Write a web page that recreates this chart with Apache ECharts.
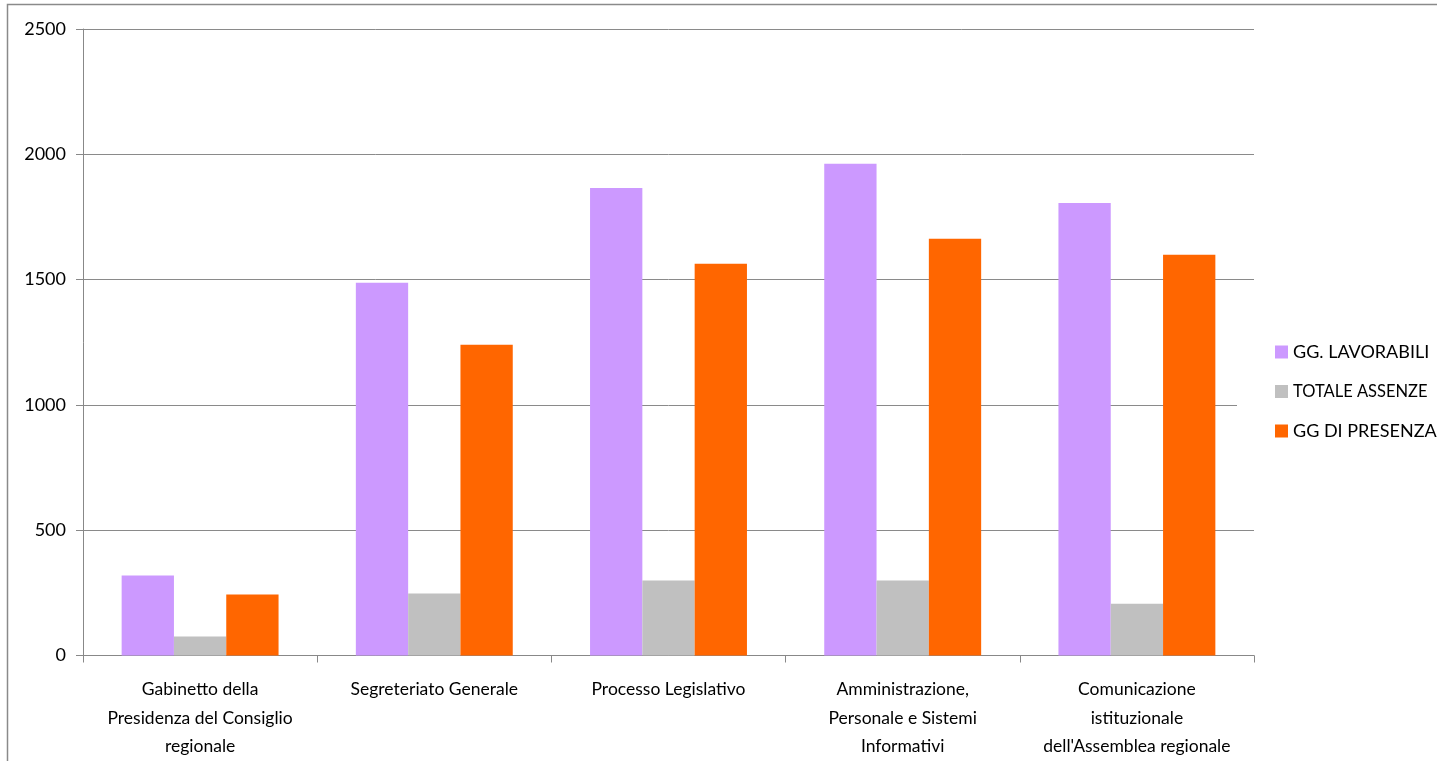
<!DOCTYPE html>
<html><head><meta charset="utf-8">
<script src="https://cdn.jsdelivr.net/npm/echarts@6/dist/echarts.min.js"></script>
<style>html,body{margin:0;padding:0;background:#fff}#c{width:1437px;height:761px}</style>
</head><body><div id="c"></div>
<script>
const categories = [
  "Gabinetto della\nPresidenza del Consiglio\nregionale",
  "Segreteriato Generale",
  "Processo Legislativo",
  "Amministrazione,\nPersonale e Sistemi\nInformativi",
  "Comunicazione\nistituzionale\ndell'Assemblea regionale"
];
const seriesNames = ["GG. LAVORABILI", "TOTALE ASSENZE", "GG DI PRESENZA"];
const lavorabili = [319, 1487, 1866, 1962, 1806];
const assenze = [76, 247, 299, 299, 207];
const presenza = [243, 1240, 1563, 1663, 1599];
const yTicks = [0, 500, 1000, 1500, 2000, 2500];

const colors = ["#cc99ff", "#c0c0c0", "#ff6600"];
const font = "Lato, 'Open Sans', sans-serif";
const chart = echarts.init(document.getElementById('c'));
chart.setOption({
  animation: false,
  textStyle: {fontFamily: font},
  graphic: [{type: 'rect', shape: {x: 7.5, y: 4.5, width: 1600, height: 900}, style: {fill: 'none', stroke: '#8a8a8a', lineWidth: 1.5}, z: -10}],
  grid: {left: 83, right: 183, top: 29, bottom: 105},
  legend: {
    orient: 'vertical', left: 1237, top: 337, itemWidth: 13, itemHeight: 13, itemGap: 22,
    icon: 'rect', backgroundColor: '#fff', padding: [6, 0, 6, 38],
    data: seriesNames,
    formatter: function (n) { return n === seriesNames[1] ? '{s|' + n + '}' : '{b|' + n + '}'; },
    textStyle: {color: '#000', fontFamily: font, rich: {b: {fontSize: 18, fontFamily: font}, s: {fontSize: 16.5, fontFamily: font}}}
  },
  xAxis: {
    type: 'category', data: categories,
    axisLine: {lineStyle: {color: '#888', width: 1}},
    axisTick: {show: true, length: 7, lineStyle: {color: '#888'}},
    axisLabel: {color: '#000', fontSize: 17.5, lineHeight: 28.5, margin: 20, interval: 0, fontFamily: font},
    splitLine: {show: false}
  },
  yAxis: {
    type: 'value', min: 0, max: 2500, interval: 500,
    axisLine: {show: true, lineStyle: {color: '#888'}},
    axisTick: {show: true, length: 7, lineStyle: {color: '#888'}},
    axisLabel: {color: '#000', fontSize: 18, margin: 17, fontFamily: font,
      formatter: function (v) { return yTicks.indexOf(v) >= 0 ? String(v) : ''; }},
    splitLine: {lineStyle: {color: '#8a8a8a', width: 1}}
  },
  series: [
    {name: seriesNames[0], type: 'bar', data: lavorabili, itemStyle: {color: colors[0]}, barGap: '0%', barCategoryGap: '33%'},
    {name: seriesNames[1], type: 'bar', data: assenze, itemStyle: {color: colors[1]}, barGap: '0%', barCategoryGap: '33%'},
    {name: seriesNames[2], type: 'bar', data: presenza, itemStyle: {color: colors[2]}, barGap: '0%', barCategoryGap: '33%'}
  ]
});
</script></body></html>
